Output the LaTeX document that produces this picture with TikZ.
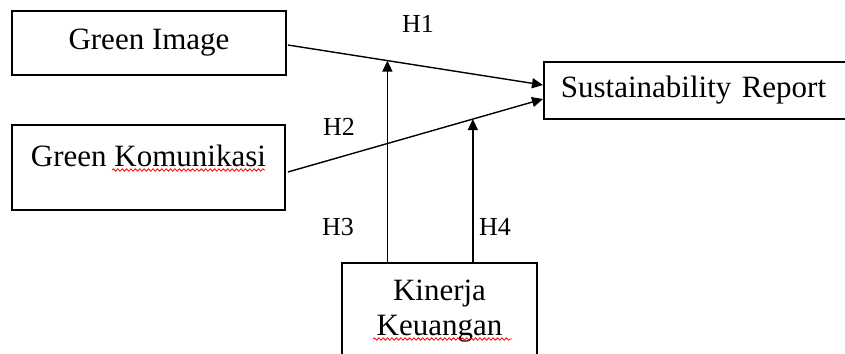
\documentclass[tikz,border=0pt]{standalone}
\usepackage{fontspec}
\setmainfont{Liberation Serif}
\usetikzlibrary{arrows.meta, positioning, calc, decorations.pathmorphing}

\begin{document}
\begin{tikzpicture}[
    x=0.5pt, y=-0.5pt,
    box/.style={rectangle, draw, line width=0.9pt, inner sep=0pt, align=center, font=\fontsize{15.5}{17.5}\selectfont},
    hyp/.style={font=\fontsize{13}{15}\selectfont},
    arrow/.style={-{Triangle[length=5.5pt, width=5pt]}, line width=0.7pt},
    typo/.style={red, line width=0.4pt, decorate, decoration={snake, amplitude=0.6pt, segment length=2.2pt}},
]
\useasboundingbox (0,0) rectangle (845,353);

\node[box, minimum width=137pt, minimum height=32pt] (gimage) at (149,43) {Green Image};
\node[box, minimum width=136.5pt, minimum height=42.5pt, text depth=12pt] (gkom) at (148.5,167.5) {Green Komunikasi};
\node[box, anchor=west, minimum height=28.5pt, text width=143pt, align=left, inner xsep=8.5pt] (sr) at (543,90.5) {Sustainability Report};
\node[box, minimum width=97.5pt, minimum height=48pt] (kk) at (439.5,311) {Kinerja\\Keuangan};

\draw[arrow] ([shift={(1,2)}]gimage.east) -- coordinate[pos=0.39] (m1) ([yshift=2.75pt]sr.west);
\draw[arrow] ([shift={(2,4.5)}]gkom.east) -- coordinate[pos=0.725] (m2) ([yshift=-4.25pt]sr.west);
\draw[arrow] (m1 |- kk.north) -- (m1);
\draw[arrow] (m2 |- kk.north) -- (m2);

\node[hyp] (h1) at (418,24) {H1};
\node[hyp] (h2) at (339,127) {H2};
\node[hyp] (h3) at (338,227) {H3};
\node[hyp] (h4) at (495,227) {H4};

% spell-check marks
\draw[typo] (112,170) -- (265,170);
\draw[typo] (373,339) -- (512,339);
\end{tikzpicture}
\end{document}
